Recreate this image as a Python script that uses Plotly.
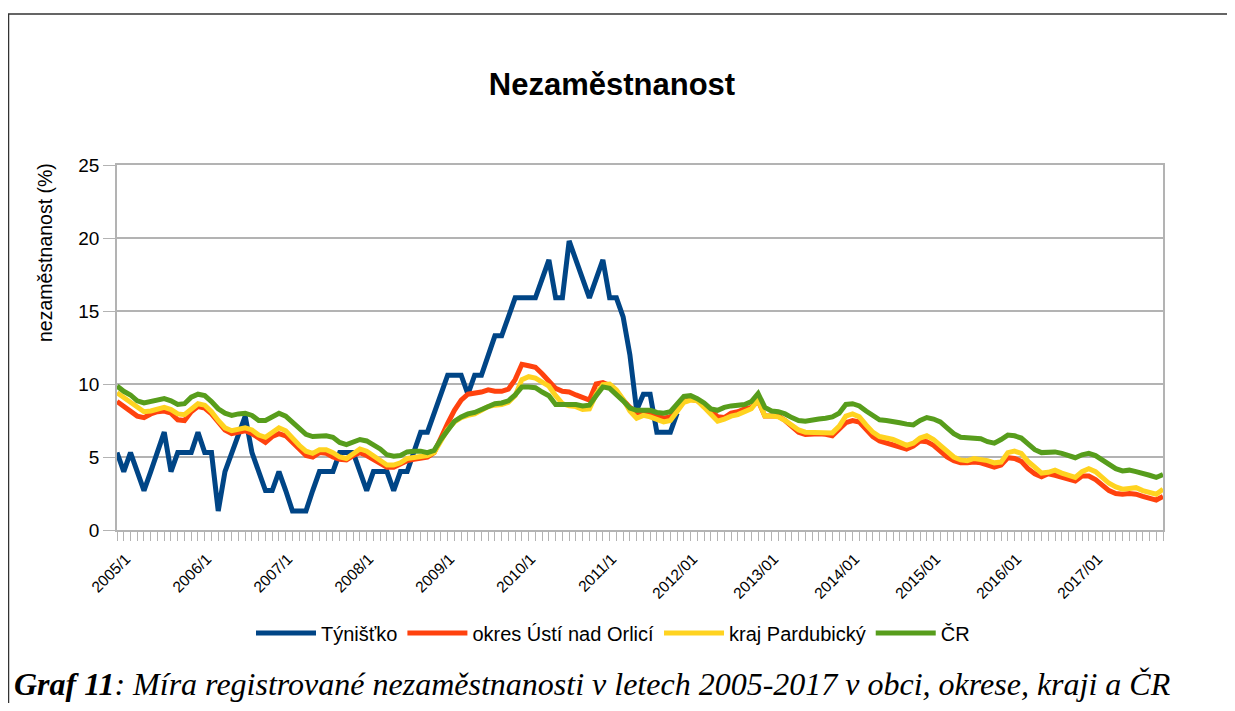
import plotly.graph_objects as go

# monthly values 2005/1 .. 2017/12
months = [f"{y}/{m}" for y in range(2005, 2018) for m in range(1, 13)]

tynistko = [5.3, 4.0, 5.3, 4.0, 2.7, 4.0, 5.3, 6.7, 4.0, 5.3, 5.3, 5.3,
            6.7, 5.3, 5.3, 1.3, 4.0, 5.3, 6.7, 7.8, 5.3, 4.0, 2.7, 2.7,
            4.0, 2.7, 1.3, 1.3, 1.3, 2.7, 4.0, 4.0, 4.0, 5.3, 5.3, 5.3,
            4.0, 2.7, 4.0, 4.0, 4.0, 2.7, 4.0, 4.0, 5.3, 6.7, 6.7, 8.0,
            9.3, 10.6, 10.6, 10.6, 9.3, 10.6, 10.6, 12.0, 13.3, 13.3, 14.6, 15.9,
            15.9, 15.9, 15.9, 17.2, 18.5, 15.9, 15.9, 19.8, 18.5, 17.2, 15.9, 17.2,
            18.5, 15.9, 15.9, 14.6, 12.0, 8.2, 9.3, 9.3, 6.7, 6.7, 6.7, 8.0]
tynistko = tynistko + [None] * (len(months) - len(tynistko))

okres = [8.8, 8.5, 8.15, 7.8, 7.7, 7.95, 8.1, 8.15, 8.0, 7.55, 7.5, 8.1,
         8.45, 8.35, 7.95, 7.4, 6.85, 6.6, 6.7, 6.8, 6.6, 6.25, 6.0, 6.4,
         6.6, 6.45, 6.0, 5.5, 5.1, 5.0, 5.3, 5.25, 5.0, 4.85, 4.8, 5.1,
         5.3, 5.1, 4.8, 4.55, 4.3, 4.3, 4.5, 4.75, 4.85, 4.9, 5.0, 5.3,
         6.4, 7.3, 8.2, 8.9, 9.3, 9.35, 9.45, 9.6, 9.5, 9.5, 9.65, 10.3,
         11.35, 11.25, 11.15, 10.7, 10.2, 9.7, 9.5, 9.45, 9.25, 9.1, 8.9, 10.0,
         10.1, 9.9, 9.5, 8.9, 8.4, 8.05, 8.05, 8.0, 7.85, 7.65, 7.75, 8.3,
         8.8, 8.95, 8.85, 8.5, 8.2, 7.75, 7.7, 8.0, 8.1, 8.3, 8.4, 8.85,
         7.8, 7.8, 7.8, 7.5, 7.1, 6.7, 6.55, 6.6, 6.6, 6.55, 6.45, 6.9,
         7.35, 7.5, 7.4, 6.9, 6.4, 6.1, 5.95, 5.85, 5.7, 5.55, 5.75, 6.1,
         6.05, 5.8, 5.4, 5.0, 4.75, 4.6, 4.6, 4.65, 4.6, 4.45, 4.3, 4.45,
         4.95, 4.9, 4.7, 4.2, 3.85, 3.65, 3.85, 3.75, 3.6, 3.45, 3.35, 3.7,
         3.7, 3.45, 3.1, 2.7, 2.5, 2.45, 2.5, 2.45, 2.3, 2.15, 2.05, 2.3]

kraj = [9.4, 9.1, 8.8, 8.4, 8.1, 8.15, 8.3, 8.4, 8.25, 7.95, 7.9, 8.3,
        8.65, 8.55, 8.1, 7.5, 7.0, 6.8, 6.9, 7.0, 6.85, 6.5, 6.35, 6.65,
        7.0, 6.8, 6.25, 5.8, 5.4, 5.25, 5.5, 5.5, 5.3, 5.0, 4.9, 5.2,
        5.55, 5.4, 5.05, 4.75, 4.45, 4.45, 4.6, 4.9, 4.95, 5.0, 5.1, 5.3,
        6.1, 6.9, 7.4, 7.7, 7.85, 7.95, 8.2, 8.45, 8.55, 8.6, 8.75, 9.2,
        10.3, 10.5, 10.4, 10.15, 9.85, 9.2, 8.65, 8.5, 8.45, 8.25, 8.3, 9.3,
        9.95, 10.0, 9.6, 8.95, 8.15, 7.65, 7.85, 7.75, 7.55, 7.4, 7.5, 8.1,
        8.75, 8.9, 8.85, 8.4, 7.9, 7.45, 7.6, 7.8, 7.9, 8.1, 8.3, 8.9,
        7.8, 7.8, 7.75, 7.5, 7.2, 6.85, 6.7, 6.7, 6.7, 6.7, 6.65, 7.1,
        7.8, 7.95, 7.75, 7.2, 6.7, 6.4, 6.3, 6.2, 6.0, 5.8, 5.95, 6.3,
        6.45, 6.2, 5.8, 5.4, 5.0, 4.8, 4.75, 4.9, 4.85, 4.75, 4.6, 4.65,
        5.3, 5.4, 5.25, 4.7, 4.3, 3.9, 3.95, 4.1, 3.9, 3.75, 3.6, 4.0,
        4.2, 4.0, 3.6, 3.2, 2.95, 2.8, 2.85, 2.9, 2.7, 2.55, 2.45, 2.8]

cr = [9.86, 9.5, 9.25, 8.85, 8.7, 8.8, 8.95, 9.0, 8.85, 8.6, 8.65, 9.1,
      9.3, 9.2, 8.8, 8.3, 8.0, 7.85, 7.95, 8.0, 7.85, 7.5, 7.5, 7.8,
      8.0, 7.8, 7.35, 6.95, 6.55, 6.4, 6.45, 6.45, 6.35, 6.0, 5.85, 6.0,
      6.2, 6.1, 5.85, 5.55, 5.15, 5.05, 5.1, 5.35, 5.4, 5.4, 5.3, 5.45,
      6.2, 6.9, 7.45, 7.75, 7.95, 8.05, 8.25, 8.5, 8.65, 8.7, 8.85, 9.25,
      9.8, 9.8, 9.75, 9.45, 9.2, 8.6, 8.6, 8.65, 8.6, 8.5, 8.55, 9.2,
      9.8, 9.7, 9.3, 8.85, 8.35, 8.2, 8.2, 8.2, 8.05, 8.0, 8.1, 8.6,
      9.15, 9.2, 9.0, 8.7, 8.3, 8.2, 8.4, 8.5, 8.55, 8.6, 8.8, 9.35,
      8.4, 8.15, 8.1, 7.95, 7.7, 7.5, 7.45, 7.55, 7.6, 7.65, 7.75, 8.0,
      8.6, 8.65, 8.5, 8.15, 7.8, 7.55, 7.5, 7.45, 7.35, 7.25, 7.2, 7.5,
      7.7, 7.6, 7.4, 7.0, 6.6, 6.35, 6.3, 6.3, 6.25, 6.05, 5.95, 6.2,
      6.5, 6.45, 6.3, 5.9, 5.5, 5.3, 5.3, 5.35, 5.25, 5.1, 4.95, 5.15,
      5.25, 5.1, 4.8, 4.45, 4.2, 4.05, 4.1, 4.0, 3.9, 3.75, 3.6, 3.8]

year_labels = ["2005/1", "2006/1", "2007/1", "2008/1", "2009/1", "2010/1", "2011/1",
               "2012/01", "2013/01", "2014/01", "2015/01", "2016/01", "2017/01"]

series = [("Týnišťko", tynistko, "#004586"),
          ("okres Ústí nad Orlicí", okres, "#ff420e"),
          ("kraj Pardubický", kraj, "#ffd320"),
          ("ČR", cr, "#579d1c")]

# page body has an 8px margin, so figure coords = screen coords - 8
OFF = 8
W, H = 1227, 695
L, R, T, B = 117, 1163, 165, 530   # plot area in screen pixels


def px(sx):
    return (sx - L) / (R - L)


def py(sy):
    return (B - sy) / (B - T)


x = list(range(len(months)))
fig = go.Figure()
for name, vals, col in series:
    fig.add_trace(go.Scatter(x=x, y=vals, name=name, mode="lines",
                             line=dict(color=col, width=5)))

fig.update_xaxes(range=[0, len(months) - 1], tickmode="array",
                 tickvals=[12 * k for k in range(len(year_labels))], ticktext=year_labels,
                 tickangle=-45, ticks="outside", ticklen=9, tickcolor="#b3b3b3",
                 ticklabelshift=9, ticklabelstandoff=3,
                 minor=dict(dtick=1, tick0=0, ticks="outside", ticklen=9, tickcolor="#b3b3b3"),
                 showgrid=False, zeroline=False, showline=True, linecolor="#b3b3b3",
                 linewidth=1.5, mirror=True, tickfont=dict(size=15.5, color="black"))
fig.update_yaxes(range=[0, 25], dtick=5, ticks="outside", ticklen=12, tickcolor="#b3b3b3",
                 showgrid=True, gridcolor="#b3b3b3", gridwidth=1.5, zeroline=False,
                 showline=True, linecolor="#b3b3b3", linewidth=1.5, mirror=True,
                 tickfont=dict(size=19, color="black"))

fig.add_annotation(text="nezaměstnanost (%)", textangle=-90, x=px(45), y=py(253),
                   xref="paper", yref="paper", xanchor="center", yanchor="middle",
                   showarrow=False, font=dict(size=19.5, color="black"))
fig.add_annotation(text="<b><i>Graf 11</i></b><i>: Míra registrované nezaměstnanosti v letech 2005-2017 v obci, okrese, kraji a ČR</i>",
                   x=px(12), y=py(684), xref="paper", yref="paper", xanchor="left",
                   yanchor="middle", showarrow=False,
                   font=dict(family="Liberation Serif", size=32, color="black"))
fig.add_shape(type="rect", xref="paper", yref="paper", x0=px(OFF + 0.5), x1=px(1234),
              y0=py(760), y1=py(14), line=dict(color="#333333", width=1.5))

fig.update_layout(
    width=W, height=H,
    margin=dict(l=L - OFF, r=W - (R - OFF), t=T - OFF, b=H - (B - OFF)),
    paper_bgcolor="white", plot_bgcolor="white",
    font=dict(family="Liberation Sans", color="black"),
    title=dict(text="<b>Nezaměstnanost</b>", x=(612 - OFF) / W, xanchor="center",
               y=1 - (84 - OFF) / H, yanchor="middle", font=dict(size=31, color="black")),
    legend=dict(orientation="h", x=px(613), xanchor="center", y=py(633), yanchor="middle",
                font=dict(size=20), itemwidth=60, traceorder="normal"),
    showlegend=True,
)

fig.write_html("out.html")
